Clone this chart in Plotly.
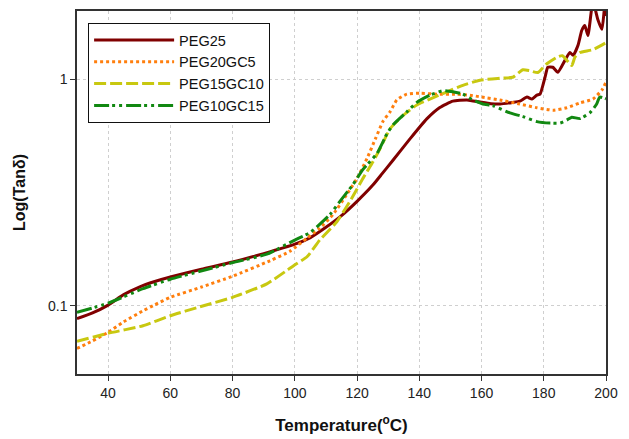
import plotly.graph_objects as go

# ---------------- data ----------------
peg25_t = [30, 35, 40, 45, 50, 55, 60, 70, 80, 90, 100, 105, 110, 115, 120, 125, 128, 131.6, 137,
           142.4, 146.6, 150.8, 155.3, 159.5, 163, 166, 170, 172.3, 174.6, 176.2, 177.8, 178.8,
           180.4, 181.3, 182.9, 184.5, 186.8, 188.4, 189.4, 191, 192.2, 193.2, 194.2, 195.8,
           197.4, 198.7, 199.6, 200]
peg25_v = [0.0877, 0.093, 0.1007, 0.112, 0.121, 0.128, 0.134, 0.145, 0.156, 0.170, 0.187, 0.200,
           0.222, 0.250, 0.289, 0.340, 0.382, 0.44, 0.545, 0.668, 0.75, 0.80, 0.81, 0.793, 0.78,
           0.777, 0.79, 0.80, 0.834, 0.817, 0.851, 0.859, 1.02, 1.129, 1.129, 1.073, 1.211, 1.313,
           1.274, 1.41, 1.64, 1.726, 1.56, 2.2, 1.83, 1.66, 2.1, 1.9]

peg20_t = [30, 35, 40, 45, 51.2, 55, 60, 70, 80, 92, 98.4, 103.9, 108, 112.3, 116.7, 120, 123.2,
           126, 128.3, 130.6, 132.8, 136, 140.2, 145.7, 152, 156.3, 160, 165.9, 172.3, 177.8,
           183, 187.4, 191.6, 195.8, 198.7, 200]
peg20_v = [0.0648, 0.070, 0.0764, 0.085, 0.095, 0.101, 0.109, 0.121, 0.135, 0.158, 0.174, 0.199,
           0.22, 0.253, 0.31, 0.365, 0.447, 0.55, 0.65, 0.718, 0.81, 0.859, 0.867, 0.859, 0.859,
           0.85, 0.834, 0.81, 0.777, 0.748, 0.73, 0.748, 0.786, 0.817, 0.896, 0.97]

peg15_t = [30, 40, 51.2, 60, 69.5, 80, 91, 99.5, 104, 108, 113.5, 117.7, 121.9, 125.1, 127.4,
           130.6, 134.7, 139.2, 143.4, 148.9, 154, 159.5, 165.9, 170, 173.3, 175.5, 178.1, 181,
           184.2, 186, 189, 190, 191.6, 195.8, 200]
peg15_v = [0.0697, 0.0756, 0.0817, 0.0904, 0.099, 0.109, 0.125, 0.150, 0.165, 0.195, 0.235,
           0.289, 0.365, 0.432, 0.494, 0.604, 0.69, 0.77, 0.817, 0.88, 0.94, 0.99, 1.01, 1.02,
           1.10, 1.09, 1.07, 1.17, 1.25, 1.27, 1.15, 1.25, 1.31, 1.35, 1.45]

peg10_t = [30, 40, 51.2, 60, 69.5, 80, 91, 100, 105, 111.3, 114.5, 118.7, 121.9, 126.4, 129.6,
           131.6, 136, 139.2, 143.4, 147.6, 150.8, 154, 157.2, 160.4, 163.7, 169.1, 173.3, 177.8,
           182, 185.2, 187.4, 189, 191.6, 194.8, 197, 198, 200]
peg10_v = [0.0935, 0.1027, 0.119, 0.131, 0.142, 0.155, 0.169, 0.195, 0.211, 0.253, 0.289, 0.343,
           0.40, 0.47, 0.574, 0.63, 0.718, 0.79, 0.85, 0.89, 0.88, 0.86, 0.81, 0.777, 0.764, 0.71,
           0.684, 0.65, 0.64, 0.64, 0.66, 0.68, 0.67, 0.71, 0.777, 0.834, 0.82]

x_ticks = [40, 60, 80, 100, 120, 140, 160, 180, 200]
y_ticks = [0.1, 1]
y_tick_labels = ["0.1", "1"]

series = [
    ("PEG25", peg25_t, peg25_v, "#800000", "solid", 3),
    ("PEG20GC5", peg20_t, peg20_v, "#FF7F0E", "dot", 3),
    ("PEG15GC10", peg15_t, peg15_v, "#C8C810", "12px,4px", 3),
    ("PEG10GC15", peg10_t, peg10_v, "#118811", "15px,3px,3px,4px,3px,4px", 3),
]

fig = go.Figure()
for name, t, v, color, dash, w in series:
    fig.add_trace(go.Scatter(
        x=t, y=v, name=name, mode="lines",
        line=dict(color=color, width=w, dash=dash, shape="spline", smoothing=0.5),
    ))

font_family = "Liberation Sans, Arial, sans-serif"

# page body has an 8px margin: figure is sized/offset to compensate
fig.update_layout(
    width=621, height=431,
    margin=dict(l=69, r=23, t=1, b=65),
    paper_bgcolor="white", plot_bgcolor="white",
    font=dict(family=font_family, size=14, color="#222"),
    showlegend=True,
    legend=dict(
        x=0.021, y=0.967, xanchor="left", yanchor="top",
        bgcolor="white", bordercolor="#111", borderwidth=1,
        font=dict(family=font_family, size=14.5, color="#111"),
        tracegroupgap=0, itemwidth=80,
    ),
    xaxis=dict(
        range=[30, 200], tickvals=x_ticks,
        showgrid=True, gridcolor="#cfcfcf", griddash="dot", gridwidth=1,
        showline=True, mirror=True, linecolor="#333", linewidth=1.5,
        ticks="outside", ticklen=5, tickcolor="#333",
        tickfont=dict(size=14, color="#222"),
        zeroline=False,
        title=dict(text="<b>Temperature(<sup>o</sup>C)</b>",
                   font=dict(size=17, color="#111"), standoff=20),
    ),
    yaxis=dict(
        type="log", range=[-1.301, 0.301],
        tickvals=y_ticks, ticktext=y_tick_labels,
        showgrid=True, gridcolor="#cfcfcf", griddash="dot", gridwidth=1,
        showline=True, mirror=True, linecolor="#333", linewidth=1.5,
        ticks="outside", ticklen=5, tickcolor="#333",
        tickfont=dict(size=14, color="#222"),
        zeroline=False,
        title=dict(text="<b>Log(Tanδ)</b>",
                   font=dict(size=16, color="#111"), standoff=18),
    ),
)

fig.write_html("out.html")
